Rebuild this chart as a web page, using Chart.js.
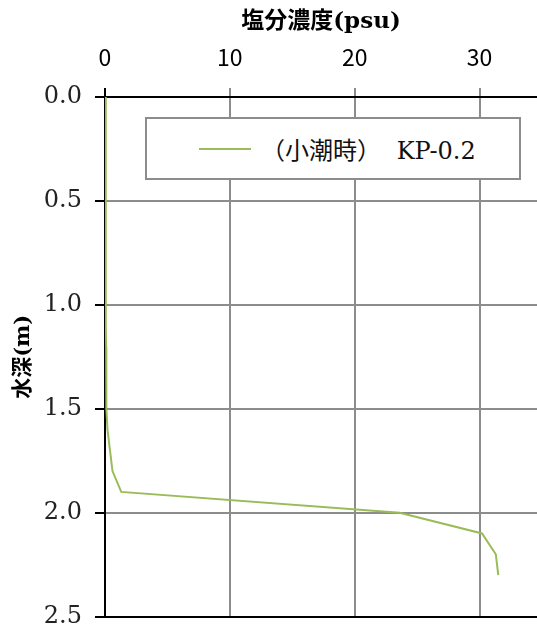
<!DOCTYPE html>
<html>
<head>
<meta charset="UTF-8" />
<title>塩分濃度</title>
<script src="https://cdn.jsdelivr.net/npm/chart.js@4"></script>
<style>
  *{box-sizing:border-box}
  body{margin:0;background:#fff;overflow:hidden;}
  .wrap{position:relative;width:537px;height:625px;overflow:hidden;}
  .legend{position:absolute;left:145px;top:117px;width:376px;height:63px;border:2px solid #8c8c8c;background:#fff;
    display:flex;align-items:center;font-family:"DejaVu Serif","Noto Sans CJK JP",serif;font-size:24px;color:#111;word-spacing:8px;}
  .legend .sw{width:52px;height:2px;background:#9bbb59;margin-left:52px;margin-right:10px;}
</style>
</head>
<body>
<div class="wrap">
  <canvas id="chart" width="537" height="644"></canvas>
  <div class="legend" id="legend"></div>
</div>
<script>
  // depth (m) and salinity (psu)
  const depth    = [0.0, 0.1, 0.2, 0.3, 0.4, 0.5, 0.6, 0.7, 0.8, 0.9, 1.0, 1.1, 1.2, 1.3, 1.4, 1.5, 1.6, 1.7, 1.8, 1.9, 2.0, 2.1, 2.2, 2.3];
  const salinity = [0.05, 0.05, 0.05, 0.05, 0.06, 0.06, 0.06, 0.07, 0.07, 0.08, 0.08, 0.08, 0.09, 0.1, 0.1, 0.12, 0.2, 0.4, 0.6, 1.3, 23.6, 30.2, 31.3, 31.5];
  const seriesLabel = "（小潮時） KP-0.2";
  const xTicks = [0, 10, 20, 30];
  const yTicks = [0.0, 0.5, 1.0, 1.5, 2.0, 2.5];

  const GRID = "#8c8c8c";
  const serif = '"DejaVu Serif", "Noto Sans CJK JP", serif';
  const sans = '"Noto Sans CJK JP", "Noto Sans", sans-serif';

  const points = depth.map((d, i) => ({ x: salinity[i], y: d }));

  new Chart(document.getElementById("chart"), {
    type: "scatter",
    data: {
      datasets: [{
        label: seriesLabel,
        data: points,
        showLine: true,
        borderColor: "#9bbb59",
        backgroundColor: "#9bbb59",
        borderWidth: 2,
        pointRadius: 0,
        tension: 0
      }]
    },
    options: {
      responsive: false,
      animation: false,
      devicePixelRatio: 1,
      layout: { padding: { left: 0, right: 0, top: 0, bottom: 10 } },
      plugins: { legend: { display: false }, tooltip: { enabled: false } },
      scales: {
        x: {
          type: "linear",
          position: "top",
          min: 0,
          max: 34.6,
          afterBuildTicks: s => { s.ticks = xTicks.map(v => ({ value: v })); },
          afterFit: s => { s.height = 97; },
          ticks: { color: "#000", font: { family: sans, size: 23 }, padding: 17 },
          grid: { color: GRID, lineWidth: 2, tickLength: 9, tickColor: ctx => ctx.tick && ctx.tick.value === 0 ? "#000" : GRID },
          border: { color: "#000", width: 2 },
          title: {
            display: true, text: "塩分濃度(psu)", color: "#000",
            font: { family: serif, size: 23, weight: "bold" },
            padding: { top: 8, bottom: 0 }
          }
        },
        y: {
          type: "linear",
          reverse: true,
          min: 0,
          max: 2.5,
          afterBuildTicks: s => { s.ticks = yTicks.map(v => ({ value: v })); },
          afterFit: s => { s.width = 105; },
          ticks: { color: "#222", font: { family: serif, size: 24 }, padding: 13, callback: v => Number(v).toFixed(1) },
          grid: {
            color: ctx => ctx.tick && ctx.tick.value === 2.5 ? "#000" : GRID,
            lineWidth: 2, tickLength: 10, tickColor: "#000"
          },
          border: { color: "#000", width: 2 },
          title: {
            display: true, text: "水深(m)", color: "#000",
            font: { family: serif, size: 21, weight: "bold" },
            padding: { top: 11, bottom: 0 }
          }
        }
      }
    }
  });

  document.getElementById("legend").innerHTML = '<span class="sw"></span><span>' + seriesLabel + '</span>';
</script>
</body>
</html>
